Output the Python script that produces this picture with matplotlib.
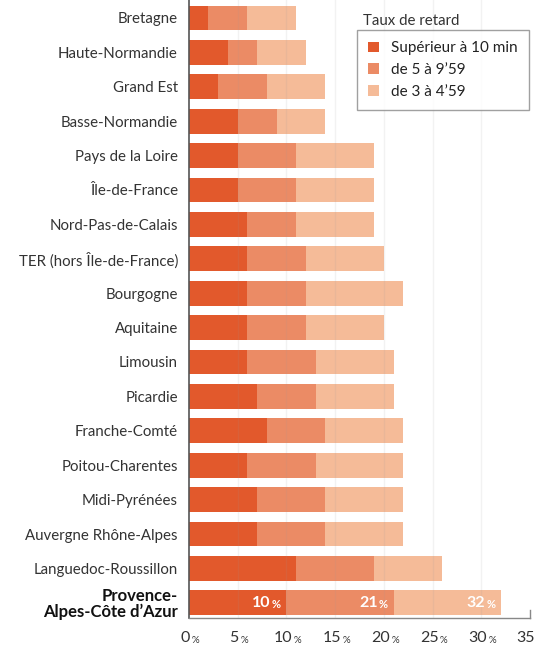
import matplotlib
matplotlib.use("Agg")
import matplotlib.pyplot as plt
from matplotlib.patches import Patch

plt.rcParams['font.family'] = ['Lato', 'DejaVu Sans']

regions = ["Bretagne", "Haute-Normandie", "Grand Est", "Basse-Normandie",
           "Pays de la Loire", "Île-de-France", "Nord-Pas-de-Calais",
           "TER (hors Île-de-France)", "Bourgogne", "Aquitaine", "Limousin",
           "Picardie", "Franche-Comté", "Poitou-Charentes", "Midi-Pyrénées",
           "Auvergne Rhône-Alpes", "Languedoc-Roussillon",
           "Provence-\nAlpes-Côte d\u2019Azur"]
# cumulative delay rates (%)
sup10 = [2, 4, 3, 5, 5, 5, 6, 6, 6, 6, 6, 7, 8, 6, 7, 7, 11, 10]
from5 = [6, 7, 8, 9, 11, 11, 11, 12, 12, 12, 13, 13, 14, 13, 14, 14, 19, 21]
from3 = [11, 12, 14, 14, 19, 19, 19, 20, 22, 20, 21, 21, 22, 22, 22, 22, 26, 32]
series_labels = ["Supérieur à 10 min", "de 5 à 9\u201959", "de 3 à 4\u201959"]
xticks = [0, 5, 10, 15, 20, 25, 30, 35]

colors = ["#E2592C", "#EB8B65", "#F5BB98"]

fig = plt.figure(figsize=(5.35, 6.46), dpi=100)
ax = fig.add_axes([189/535, 28/646, 341/535, 618/646])

y = list(range(len(regions)))
h = 0.72
seg1 = sup10
seg2 = [b - a for a, b in zip(sup10, from5)]
seg3 = [c - b for b, c in zip(from5, from3)]
ax.barh(y, seg1, height=h, color=colors[0], zorder=2)
ax.barh(y, seg2, left=sup10, height=h, color=colors[1], zorder=2)
ax.barh(y, seg3, left=from5, height=h, color=colors[2], zorder=2)

ax.set_xlim(0, 35)
ax.set_ylim(17.44, -0.52)

for xv in xticks[1:-1]:
    ax.axvline(xv, color="#999999", alpha=0.12, lw=1, zorder=3)

for s in ["top", "right"]:
    ax.spines[s].set_visible(False)
ax.spines["left"].set_color("#555555")
ax.spines["bottom"].set_color("#888888")
ax.spines["left"].set_linewidth(1.2)
ax.spines["bottom"].set_linewidth(1.0)
ax.plot([35, 35], [17.44, 17.2], color="#888888", lw=1.0, clip_on=False, zorder=4)

ax.set_yticks(y)
ax.set_yticklabels(regions, fontsize=10.8, color="#333333")
ax.tick_params(axis="y", length=0, pad=8)
for i, lab in enumerate(ax.get_yticklabels()):
    if i == len(regions) - 1:
        lab.set_fontweight("bold")
        lab.set_fontsize(12)
        lab.set_color("#111111")
        lab.set_linespacing(0.95)

ax.set_xticks(xticks)
ax.set_xticklabels([])
ax.tick_params(axis="x", length=0)

# x tick labels with small percent sign
for xv in xticks:
    t = ax.annotate(str(xv), xy=(xv, 17.44), xycoords="data",
                    xytext=(-2.5 if xv != 35 else -3, -14.5), textcoords="offset points",
                    ha="center", va="center",
                    fontsize=11.5, color="#333333", annotation_clip=False)
    if xv != 35:
        ax.annotate("%", xy=(1, 0.5), xycoords=t, xytext=(1, -1.5),
                    textcoords="offset points", ha="left", va="center",
                    fontsize=7, color="#333333", annotation_clip=False)

# labels on the last bar
last = len(regions) - 1
for val in [sup10[last], from5[last], from3[last]]:
    pct = ax.annotate("%", xy=(val, last), xycoords="data",
                      xytext=(-4, -1), textcoords="offset points",
                      ha="right", va="center", fontsize=8, fontweight="bold",
                      color="white", zorder=5)
    ax.annotate(str(val), xy=(0, 0.5), xycoords=pct, xytext=(-1, 1),
                textcoords="offset points", ha="right", va="center",
                fontsize=11.5, fontweight="bold", color="white", zorder=5)

handles = [Patch(facecolor=c, edgecolor="none") for c in colors]
leg = fig.legend(handles, series_labels, loc="upper left",
                 bbox_to_anchor=(357/535, 1 - 30/646), fontsize=11,
                 frameon=True, fancybox=False, handlelength=0.7,
                 handleheight=0.7, handletextpad=0.8, labelspacing=0.5,
                 borderpad=0.75, borderaxespad=0)
leg.get_frame().set_edgecolor("#888888")
leg.get_frame().set_linewidth(1.0)
for t in leg.get_texts():
    t.set_color("#222222")
fig.text(363/535, 1 - 21/646, "Taux de retard", fontsize=10.8, color="#333333",
         ha="left", va="center")

fig.savefig("out.png", dpi=100)
